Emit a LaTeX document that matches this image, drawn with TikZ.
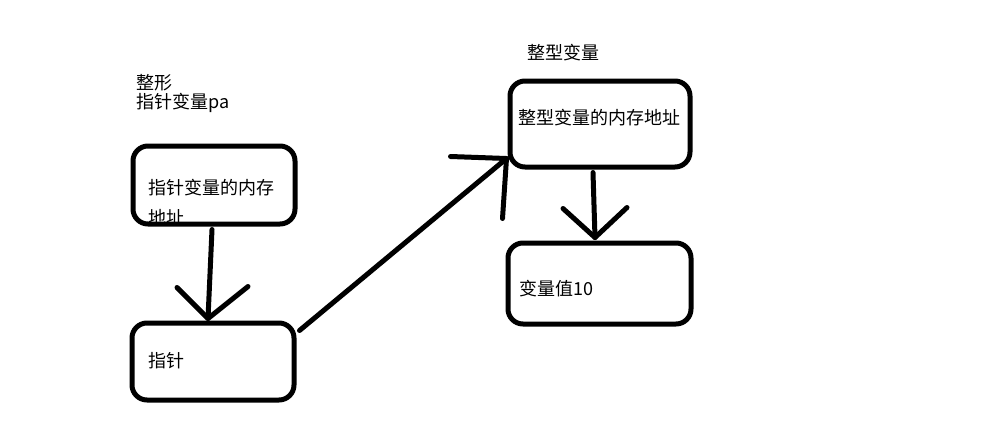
\documentclass[tikz,border=0pt]{standalone}
\usepackage{fontspec}
\newfontfamily\cjk{Noto Sans CJK SC}
\usetikzlibrary{
  calc,
  positioning
}

\begin{document}
\begin{tikzpicture}[x=1pt, y=-1pt,
    box/.style = {draw, line width=5pt, rounded corners=15pt, inner sep=0pt},
    label/.style = {anchor=base west, inner sep=0pt, font=\cjk\fontsize{18}{19}\selectfont},
    stroke/.style = {line width=5pt, line cap=round}]
    \useasboundingbox (0,0) rectangle (996,432);

    \node[label] (pa1) at (136,89) {整形};
    \node[label] (pa2) at (136,108) {指针变量pa};
    \node[label] (t1) at (148,194) {指针变量的内存};
    \node[label] (t1b) at (148,224) {地址};
    \node[label] (t2) at (148,367) {指针};
    \node[label] (iv) at (527,59) {整型变量};
    \node[label] (t3) at (518,124) {整型变量的内存地址};
    \node[label] (t4) at (519,295) {变量值10};

    \node[box, minimum width=162pt, minimum height=78pt] (1) at (214,185) {};
    \node[box, minimum width=162pt, minimum height=77pt] (2) at (213,361.5) {};
    \node[box, minimum width=180pt, minimum height=86pt] (3) at (600,124) {};
    \node[box, minimum width=183pt, minimum height=81pt] (4) at (599.5,283.5) {};

    \draw[stroke] ($(1.south)+(-2,3)$) -- ($(2.north)+(-5,-2)$) coordinate (h1);
    \draw[stroke] (h1) -- ++(-31,-31) (h1) -- ++(40,-32);

    \draw[stroke] ($(2.north east)+(3,10)$) -- ($(3.south west)+(-1,-11)$) coordinate (h2);
    \draw[stroke] (h2) -- ++(-56,-2) (h2) -- ++(-4,60);

    \draw[stroke] ($(3.south)+(-7,3)$) -- ($(4.north)+(-4.5,-3)$) coordinate (h3);
    \draw[stroke] (h3) -- ++(-32,-29) (h3) -- ++(32,-30);
  \end{tikzpicture}
\end{document}
